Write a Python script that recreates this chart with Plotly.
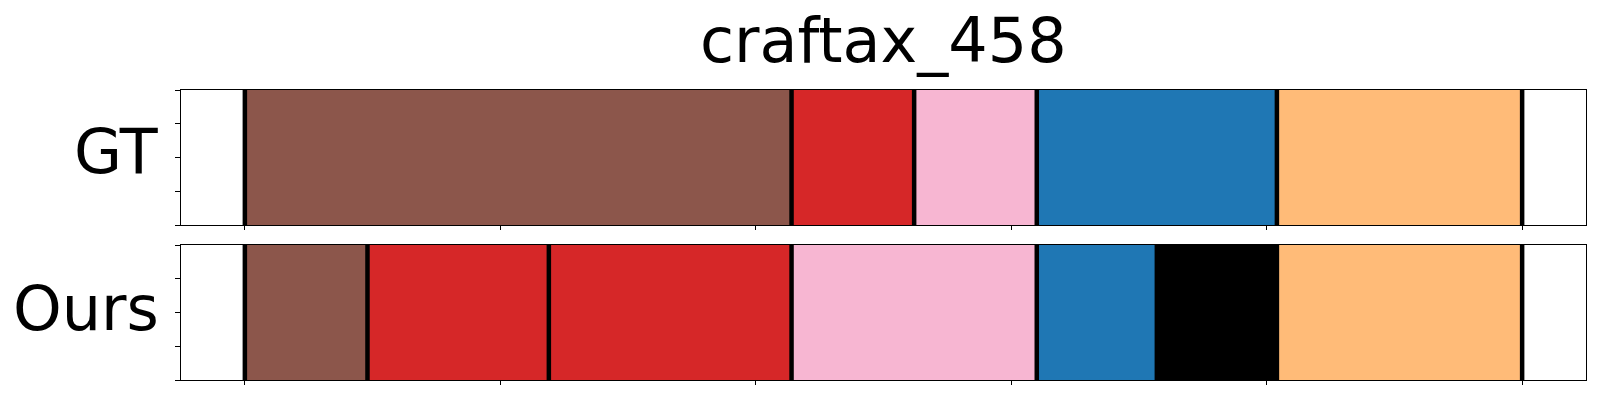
import plotly.graph_objects as go

# ---- data ----
title_text = "craftax_458"
row_labels = ["GT", "Ours"]

gt_bounds = [0, 107, 131, 155, 202, 250]
gt_classes = ["brown", "red", "pink", "blue", "orange"]

ours_bounds = [0, 24, 59.5, 107, 155, 178.5, 202, 250]
ours_classes = ["brown", "red", "red", "pink", "blue", "black", "orange"]

x_ticks = [0, 50, 100, 150, 200, 250]
y_ticks = [0, 0.25, 0.5, 0.75, 1.0]

palette = {
    "brown": "#8c564b",
    "red": "#d62728",
    "pink": "#f7b6d2",
    "blue": "#1f77b4",
    "orange": "#ffbb78",
    "black": "#000000",
}

W, H = 1600, 400
ML, MR, MT, MB = 181, 14, 90, 20
PW = W - ML - MR
PH = H - MT - MB

fig = go.Figure()


def add_row(bounds, classes, xa, ya):
    for i, cls in enumerate(classes):
        start = bounds[i]
        end = bounds[i + 1]
        fig.add_trace(go.Bar(
            orientation="h", y=[0.5], x=[end - start], base=[start], width=1.0,
            marker=dict(color=palette[cls], line=dict(width=0)),
            xaxis=xa, yaxis=ya, showlegend=False, hoverinfo="skip",
        ))
    xs, ys = [], []
    for b in bounds:
        xs += [b, b, None]
        ys += [0, 1, None]
    fig.add_trace(go.Scatter(
        x=xs, y=ys, mode="lines", line=dict(color="black", width=4.5),
        xaxis=xa, yaxis=ya, showlegend=False, hoverinfo="skip", cliponaxis=False,
    ))


add_row(gt_bounds, gt_classes, "x", "y")
add_row(ours_bounds, ours_classes, "x2", "y2")

top_dom = [(H - MB - 225) / PH, 1.0]
bot_dom = [0.0, (H - MB - 245) / PH]

xcommon = dict(range=[-12.5, 262.5], showline=True, mirror=True, linecolor="black",
               linewidth=1, ticks="outside", ticklen=4, tickwidth=1, tickcolor="black",
               tickvals=x_ticks, showticklabels=False, showgrid=False, zeroline=False,
               domain=[0, 1])
ycommon = dict(range=[0, 1], showline=True, mirror=True, linecolor="black",
               linewidth=1, ticks="outside", ticklen=5, tickwidth=1, tickcolor="black",
               tickvals=y_ticks, showticklabels=False, showgrid=False, zeroline=False)

fig.update_layout(
    width=W, height=H,
    margin=dict(l=ML, r=MR, t=MT, b=MB),
    paper_bgcolor="white", plot_bgcolor="white",
    barmode="overlay", bargap=0,
    font=dict(family="DejaVu Sans", color="black"),
    xaxis=dict(**xcommon, anchor="y"),
    yaxis=dict(**ycommon, anchor="x", domain=top_dom),
    xaxis2=dict(**xcommon, anchor="y2"),
    yaxis2=dict(**ycommon, anchor="x2", domain=bot_dom),
)

def py(px):
    return (H - MB - px) / PH

lab_x = (159.5 - ML) / PW
fig.add_annotation(text=row_labels[0], xref="paper", yref="paper", x=lab_x, y=py(174 + 15),
                   xanchor="right", yanchor="bottom", showarrow=False, borderpad=0,
                   font=dict(size=62, family="DejaVu Sans", color="black"))
fig.add_annotation(text=row_labels[1], xref="paper", yref="paper", x=lab_x, y=py(330.7 + 15),
                   xanchor="right", yanchor="bottom", showarrow=False, borderpad=0,
                   font=dict(size=62, family="DejaVu Sans", color="black"))
fig.add_annotation(text=title_text, xref="paper", yref="paper", x=(883 - ML) / PW, y=py(62.7 + 15),
                   xanchor="center", yanchor="bottom", showarrow=False, borderpad=0,
                   font=dict(size=62, family="DejaVu Sans", color="black"))

fig.write_html("out.html", config={"displayModeBar": False},
               post_script="document.body.style.margin='0';document.body.style.padding='0';")
